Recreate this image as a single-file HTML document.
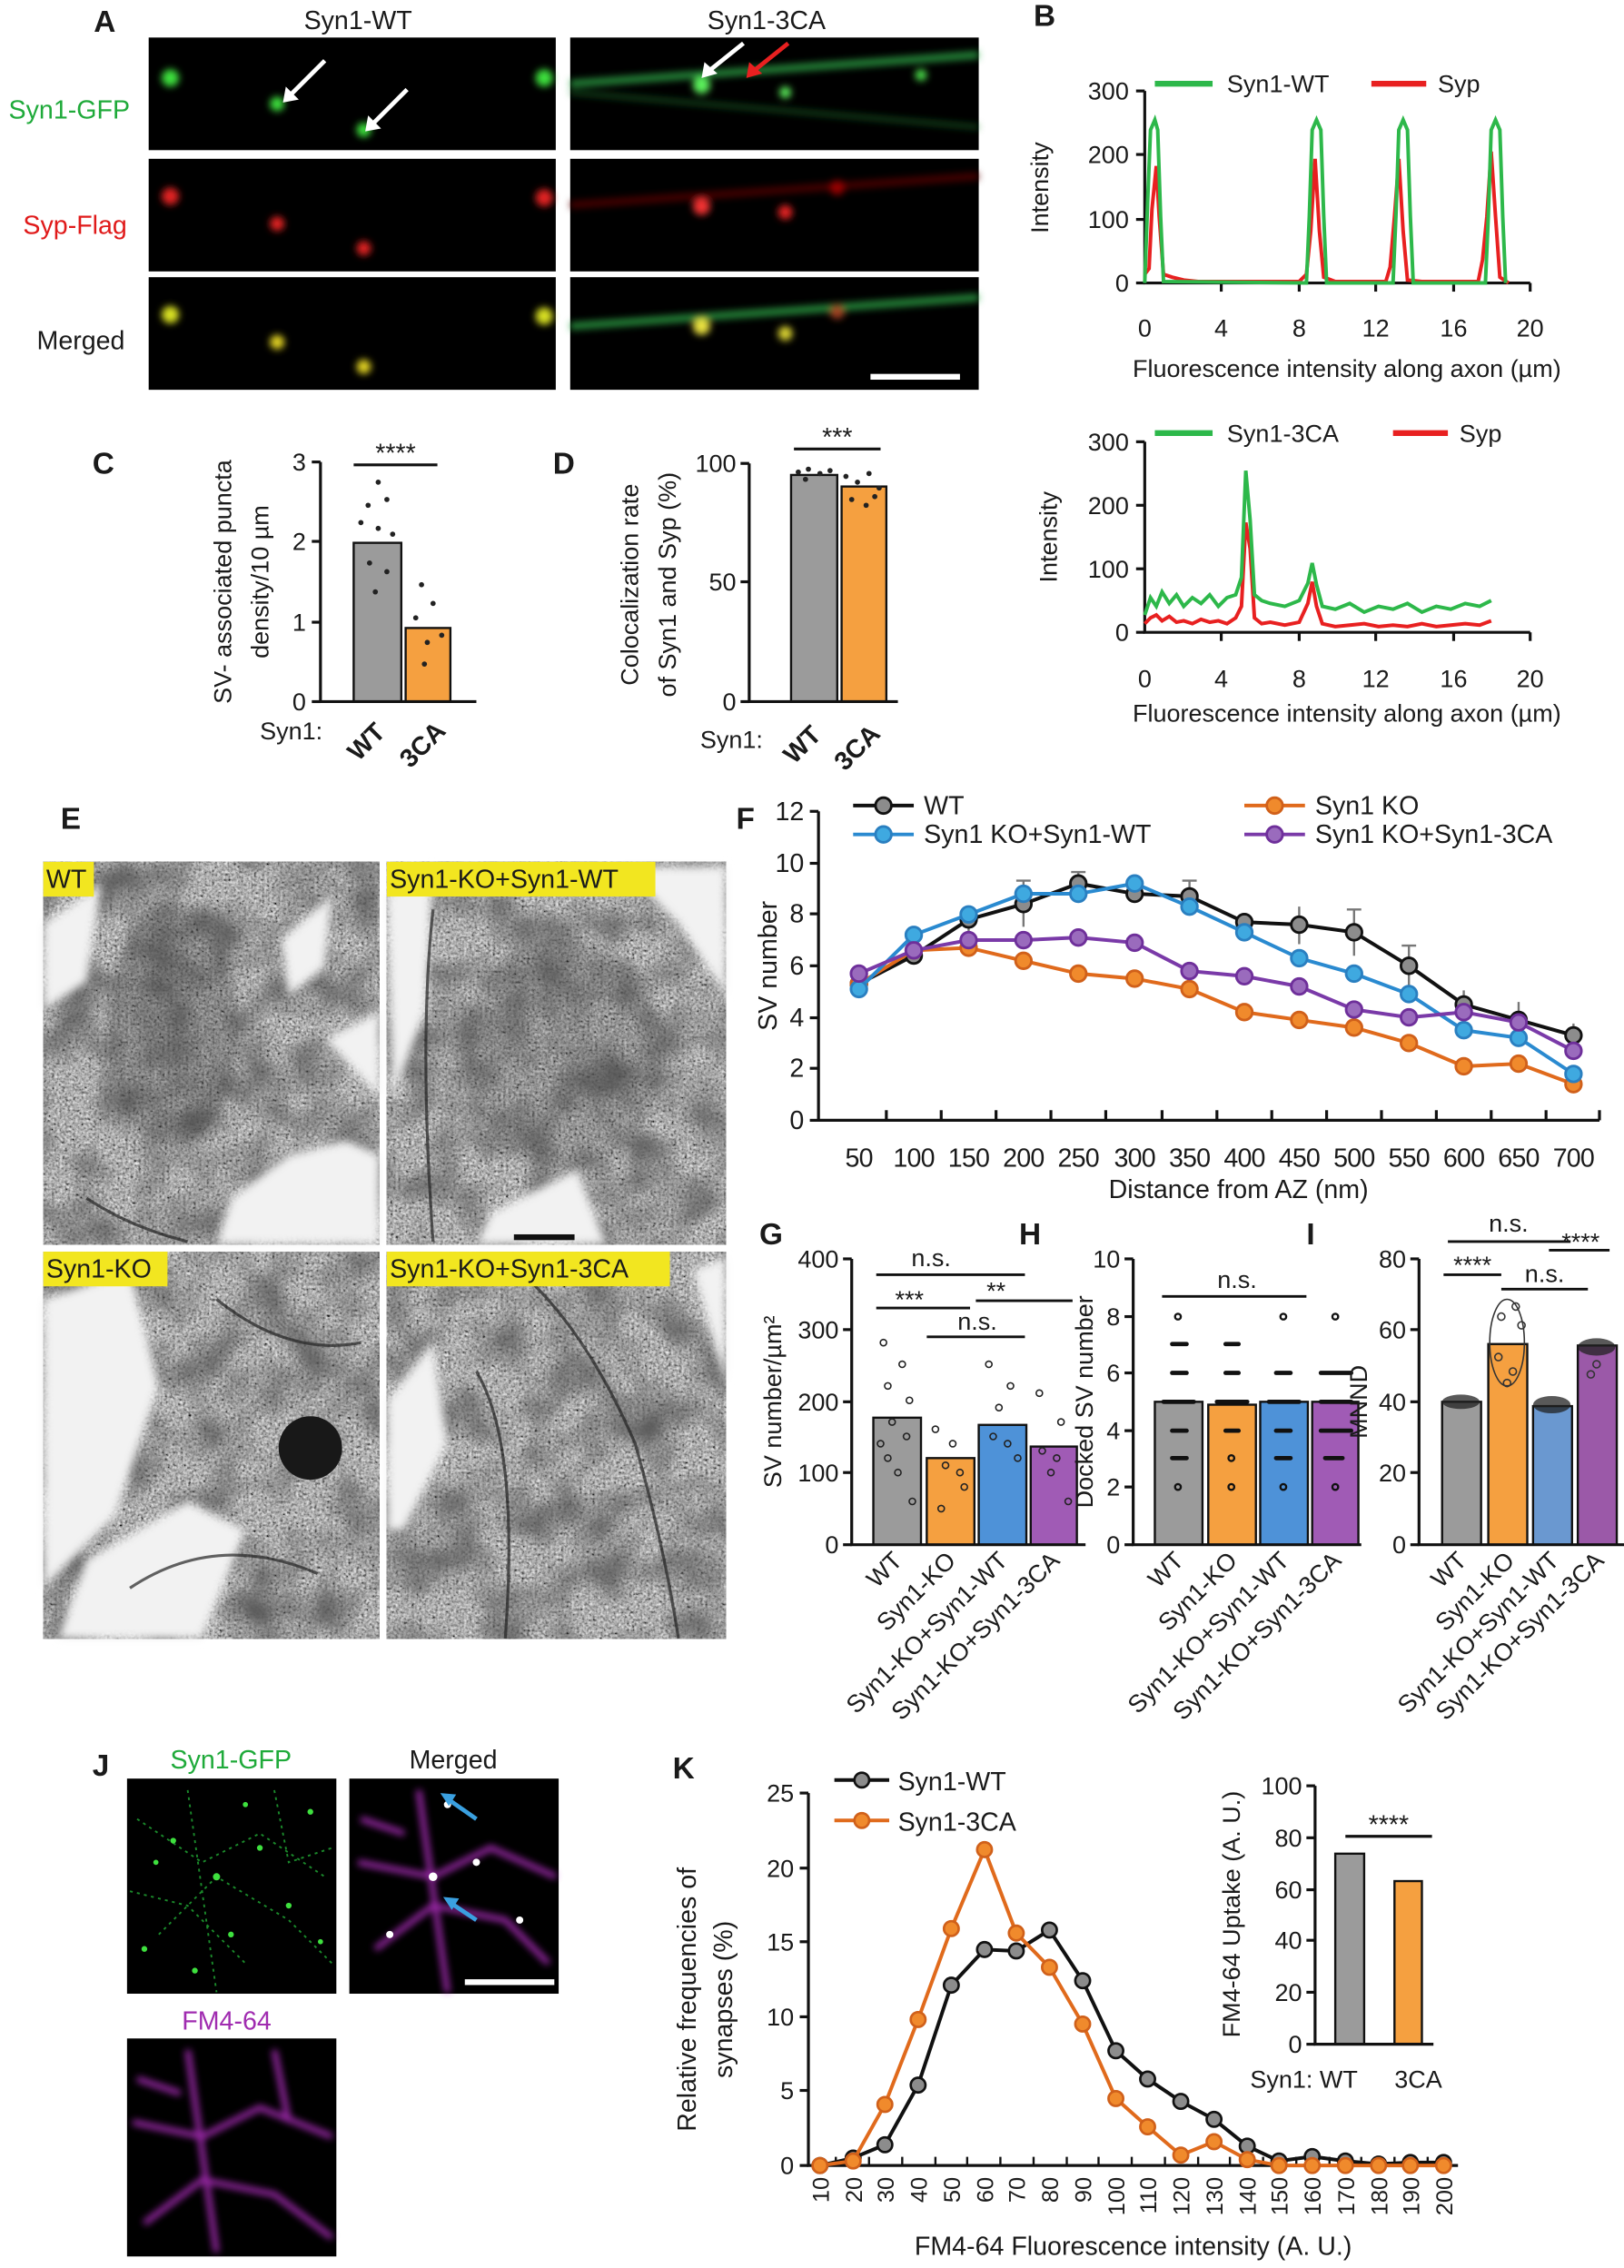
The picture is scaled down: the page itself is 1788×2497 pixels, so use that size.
<!DOCTYPE html>
<html><head><meta charset="utf-8"><style>
html,body{margin:0;padding:0;background:#fff}
svg{display:block}
text{font-family:"Liberation Sans",Arial,sans-serif;fill:#1a1a1a}
</style></head><body>
<svg width="1788" height="2497" viewBox="0 0 1125 1571" preserveAspectRatio="none" xmlns="http://www.w3.org/2000/svg">
<defs>
<filter id="blur" x="-50%" y="-50%" width="200%" height="200%"><feGaussianBlur stdDeviation="2.5"/></filter>
<filter id="em" x="0" y="0" width="100%" height="100%">
<feTurbulence type="fractalNoise" baseFrequency="0.55" numOctaves="2" seed="3"/>
<feColorMatrix type="matrix" values="0.6 0.6 0.6 0 -0.48  0.6 0.6 0.6 0 -0.48  0.6 0.6 0.6 0 -0.48  0 0 0 0 1"/>
</filter>
<filter id="em2" x="0" y="0" width="100%" height="100%">
<feTurbulence type="fractalNoise" baseFrequency="0.03" numOctaves="2" seed="8"/>
<feColorMatrix type="matrix" values="0 0 0 0 0.1  0 0 0 0 0.1  0 0 0 0 0.1  0 0 0 -1.8 1.15"/>
</filter>
<filter id="soft" x="-20%" y="-20%" width="140%" height="140%"><feGaussianBlur stdDeviation="3"/></filter>
<marker id="mk" viewBox="0 0 14 14" refX="7" refY="7" markerWidth="14" markerHeight="14" markerUnits="userSpaceOnUse"><circle cx="7" cy="7" r="5.5" fill="#8c8c8c" stroke="#111" stroke-width="1.8"/></marker>
<marker id="mo" viewBox="0 0 14 14" refX="7" refY="7" markerWidth="14" markerHeight="14" markerUnits="userSpaceOnUse"><circle cx="7" cy="7" r="5.5" fill="#f08a2c" stroke="#d0601a" stroke-width="1.8"/></marker>
<marker id="mb" viewBox="0 0 14 14" refX="7" refY="7" markerWidth="14" markerHeight="14" markerUnits="userSpaceOnUse"><circle cx="7" cy="7" r="5.5" fill="#3fa9e0" stroke="#2a7fc0" stroke-width="1.8"/></marker>
<marker id="mp" viewBox="0 0 14 14" refX="7" refY="7" markerWidth="14" markerHeight="14" markerUnits="userSpaceOnUse"><circle cx="7" cy="7" r="5.5" fill="#9a6bbd" stroke="#6e2f9a" stroke-width="1.8"/></marker>
<marker id="kk" viewBox="0 0 14 14" refX="7" refY="7" markerWidth="13" markerHeight="13" markerUnits="userSpaceOnUse"><circle cx="7" cy="7" r="5.5" fill="#8c8c8c" stroke="#111" stroke-width="1.8"/></marker>
<marker id="ko" viewBox="0 0 14 14" refX="7" refY="7" markerWidth="13" markerHeight="13" markerUnits="userSpaceOnUse"><circle cx="7" cy="7" r="5.5" fill="#f08a2c" stroke="#d0601a" stroke-width="1.8"/></marker>
</defs>

<!-- ===== Panel A ===== -->
<text x="65" y="22" font-size="21" font-weight="bold">A</text>
<text x="248" y="20" font-size="18" text-anchor="middle">Syn1-WT</text>
<text x="531" y="20" font-size="18" text-anchor="middle">Syn1-3CA</text>
<text x="48" y="82" font-size="18" text-anchor="middle" style="fill:#1faa3a">Syn1-GFP</text>
<text x="52" y="162" font-size="18" text-anchor="middle" style="fill:#e01a1a">Syp-Flag</text>
<text x="56" y="242" font-size="18" text-anchor="middle">Merged</text>
<rect x="103" y="26" width="282" height="78" fill="#000"/>
<rect x="395" y="26" width="283" height="78" fill="#000"/>
<rect x="103" y="110" width="282" height="78" fill="#000"/>
<rect x="395" y="110" width="283" height="78" fill="#000"/>
<rect x="103" y="192" width="282" height="78" fill="#000"/>
<rect x="395" y="192" width="283" height="78" fill="#000"/>
<g filter="url(#blur)">
<circle cx="118" cy="54" r="6" fill="#3ce03c"/><circle cx="192" cy="72" r="5" fill="#3ce03c"/><circle cx="252" cy="90" r="5" fill="#3ce03c"/><circle cx="377" cy="54" r="6" fill="#3ce03c"/>
<path d="M395 58 L678 38" stroke="#2fb04a" stroke-width="5" opacity="0.8"/><path d="M395 64 L678 88" stroke="#1e7a30" stroke-width="3" opacity="0.6"/>
<circle cx="486" cy="59" r="6" fill="#5cf05c"/><circle cx="544" cy="64" r="4" fill="#5cf05c"/><circle cx="638" cy="52" r="4" fill="#4ce04c"/>
<circle cx="118" cy="136" r="6" fill="#e02020"/><circle cx="192" cy="155" r="5" fill="#e02020"/><circle cx="252" cy="172" r="5" fill="#e02020"/><circle cx="377" cy="137" r="6" fill="#e02020"/>
<path d="M395 142 L678 122" stroke="#5a0808" stroke-width="5" opacity="0.8"/>
<circle cx="486" cy="143" r="6" fill="#f03030"/><circle cx="544" cy="147" r="5" fill="#e02020"/><circle cx="580" cy="130" r="5" fill="#900"/>
<circle cx="118" cy="218" r="6" fill="#d8e020"/><circle cx="192" cy="237" r="5" fill="#e0d020"/><circle cx="252" cy="254" r="5" fill="#e0d020"/><circle cx="377" cy="219" r="6" fill="#d8e020"/>
<path d="M395 226 L678 206" stroke="#2fb04a" stroke-width="5" opacity="0.8"/>
<circle cx="486" cy="226" r="6" fill="#e8e040"/><circle cx="544" cy="231" r="5" fill="#d8d030"/><circle cx="580" cy="216" r="5" fill="#a04020"/>
</g>
<path d="M225 42 L200 67" stroke="#fff" stroke-width="3"/><path d="M196 71 L198 60 L207 69Z" fill="#fff"/>
<path d="M282 62 L257 87" stroke="#fff" stroke-width="3"/><path d="M253 91 L255 80 L264 89Z" fill="#fff"/>
<path d="M515 30 L490 50" stroke="#fff" stroke-width="3"/><path d="M486 54 L488 43 L497 51Z" fill="#fff"/>
<path d="M546 30 L521 50" stroke="#e82020" stroke-width="3"/><path d="M517 54 L519 43 L528 51Z" fill="#e82020"/>
<rect x="603" y="259" width="62" height="4" fill="#fff"/>

<!-- ===== Panel B ===== -->
<text x="716" y="18" font-size="21" font-weight="bold">B</text>
<g font-size="17">
<line x1="800" y1="58" x2="840" y2="58" stroke="#2db84a" stroke-width="4"/><text x="850" y="64">Syn1-WT</text>
<line x1="950" y1="58" x2="988" y2="58" stroke="#e82020" stroke-width="4"/><text x="996" y="64">Syp</text>
<text x="726" y="130" transform="rotate(-90 726 130)" text-anchor="middle">Intensity</text>
<path d="M793 63 V196 H1060" fill="none" stroke="#111" stroke-width="2"/>
<g stroke="#111" stroke-width="2"><line x1="787" y1="63" x2="793" y2="63"/><line x1="787" y1="107" x2="793" y2="107"/><line x1="787" y1="152" x2="793" y2="152"/><line x1="787" y1="196" x2="793" y2="196"/>
<line x1="846" y1="196" x2="846" y2="202"/><line x1="900" y1="196" x2="900" y2="202"/><line x1="953" y1="196" x2="953" y2="202"/><line x1="1007" y1="196" x2="1007" y2="202"/><line x1="1060" y1="196" x2="1060" y2="202"/></g>
<g text-anchor="end"><text x="782" y="69">300</text><text x="782" y="113">200</text><text x="782" y="158">100</text><text x="782" y="202">0</text></g>
<g text-anchor="middle"><text x="793" y="233">0</text><text x="846" y="233">4</text><text x="900" y="233">8</text><text x="953" y="233">12</text><text x="1007" y="233">16</text><text x="1060" y="233">20</text></g>
<text x="933" y="261" text-anchor="middle">Fluorescence intensity along axon (µm)</text>
<polyline fill="none" stroke="#e82020" stroke-width="2.5" points="793,190 796,186 798,145 801,115 803,150 806,190 812,192 820,194 830,195 900,195 905,190 908,160 911,110 914,160 917,192 925,195 960,195 963,185 966,150 969,110 972,160 975,194 985,195 1024,195 1027,180 1030,150 1033,105 1036,150 1039,192 1045,196"/>
<polyline fill="none" stroke="#2db84a" stroke-width="2.5" points="793,196 795,140 797,90 800,83 802,90 804,150 806,195 905,196 907,150 909,90 912,83 915,90 917,150 919,196 965,196 967,150 969,90 972,83 975,90 977,150 979,196 1029,196 1031,150 1033,90 1036,83 1039,90 1041,150 1043,196"/>

<line x1="800" y1="300" x2="840" y2="300" stroke="#2db84a" stroke-width="4"/><text x="850" y="306">Syn1-3CA</text>
<line x1="965" y1="300" x2="1003" y2="300" stroke="#e82020" stroke-width="4"/><text x="1011" y="306">Syp</text>
<text x="732" y="372" transform="rotate(-90 732 372)" text-anchor="middle">Intensity</text>
<path d="M793 306 V438 H1060" fill="none" stroke="#111" stroke-width="2"/>
<g stroke="#111" stroke-width="2"><line x1="787" y1="306" x2="793" y2="306"/><line x1="787" y1="350" x2="793" y2="350"/><line x1="787" y1="394" x2="793" y2="394"/><line x1="787" y1="438" x2="793" y2="438"/>
<line x1="846" y1="438" x2="846" y2="444"/><line x1="900" y1="438" x2="900" y2="444"/><line x1="953" y1="438" x2="953" y2="444"/><line x1="1007" y1="438" x2="1007" y2="444"/><line x1="1060" y1="438" x2="1060" y2="444"/></g>
<g text-anchor="end"><text x="782" y="312">300</text><text x="782" y="356">200</text><text x="782" y="400">100</text><text x="782" y="444">0</text></g>
<g text-anchor="middle"><text x="793" y="476">0</text><text x="846" y="476">4</text><text x="900" y="476">8</text><text x="953" y="476">12</text><text x="1007" y="476">16</text><text x="1060" y="476">20</text></g>
<text x="933" y="500" text-anchor="middle">Fluorescence intensity along axon (µm)</text>
<polyline fill="none" stroke="#e82020" stroke-width="2.5" points="793,432 797,428 801,426 805,430 810,427 815,431 820,430 826,432 832,429 838,431 844,430 850,432 856,428 860,420 863,362 866,380 869,428 874,432 880,431 890,433 900,431 906,418 909,403 912,420 916,432 925,434 935,433 945,432 955,434 965,433 975,434 985,432 995,434 1005,433 1015,432 1025,433 1033,430"/>
<polyline fill="none" stroke="#2db84a" stroke-width="2.5" points="793,426 797,414 801,420 805,410 810,418 815,412 820,420 826,414 832,418 838,412 844,420 850,414 856,412 860,400 863,326 866,360 869,412 874,416 880,418 890,420 900,416 906,404 909,390 912,405 916,420 925,422 935,418 945,424 955,420 965,422 975,418 985,424 995,420 1005,422 1015,418 1025,420 1033,416"/>
</g>

<!-- ===== Panel C ===== -->
<text x="64" y="328" font-size="21" font-weight="bold">C</text>
<g font-size="17">
<text x="160" y="403" transform="rotate(-90 160 403)" text-anchor="middle">SV- associated puncta</text>
<text x="186" y="403" transform="rotate(-90 186 403)" text-anchor="middle">density/10 µm</text>
<rect x="245" y="376" width="33" height="110" fill="#9b9b9b" stroke="#111" stroke-width="1.5"/>
<rect x="281" y="435" width="31" height="51" fill="#f5a040" stroke="#111" stroke-width="1.5"/>
<path d="M222 320 V486 H330" fill="none" stroke="#111" stroke-width="2"/>
<g stroke="#111" stroke-width="2"><line x1="216" y1="320" x2="222" y2="320"/><line x1="216" y1="375" x2="222" y2="375"/><line x1="216" y1="431" x2="222" y2="431"/><line x1="216" y1="486" x2="222" y2="486"/></g>
<g text-anchor="end"><text x="212" y="326">3</text><text x="212" y="381">2</text><text x="212" y="437">1</text><text x="212" y="492">0</text></g>
<line x1="245" y1="322" x2="303" y2="322" stroke="#111" stroke-width="2"/>
<text x="274" y="320" text-anchor="middle" font-size="18">****</text>
<g fill="#222"><circle cx="262" cy="334" r="1.8"/><circle cx="255" cy="350" r="1.8"/><circle cx="268" cy="346" r="1.8"/><circle cx="250" cy="362" r="1.8"/><circle cx="262" cy="366" r="1.8"/><circle cx="272" cy="370" r="1.8"/><circle cx="256" cy="390" r="1.8"/><circle cx="268" cy="396" r="1.8"/><circle cx="260" cy="410" r="1.8"/><circle cx="292" cy="405" r="1.8"/><circle cx="300" cy="418" r="1.8"/><circle cx="288" cy="428" r="1.8"/><circle cx="296" cy="445" r="1.8"/><circle cx="306" cy="440" r="1.8"/><circle cx="294" cy="460" r="1.8"/></g>
<text x="180" y="512">Syn1:</text>
<text x="258" y="518" transform="rotate(-45 258 518)" font-size="18" font-weight="bold" text-anchor="middle">WT</text>
<text x="297" y="520" transform="rotate(-45 297 520)" font-size="18" font-weight="bold" text-anchor="middle">3CA</text>
</g>

<!-- ===== Panel D ===== -->
<text x="383" y="328" font-size="21" font-weight="bold">D</text>
<g font-size="17">
<text x="442" y="405" transform="rotate(-90 442 405)" text-anchor="middle">Colocalization rate</text>
<text x="468" y="405" transform="rotate(-90 468 405)" text-anchor="middle">of Syn1 and Syp (%)</text>
<rect x="548" y="329" width="32" height="157" fill="#9b9b9b" stroke="#111" stroke-width="1.5"/>
<rect x="583" y="337" width="31" height="149" fill="#f5a040" stroke="#111" stroke-width="1.5"/>
<path d="M519 321 V486 H622" fill="none" stroke="#111" stroke-width="2"/>
<g stroke="#111" stroke-width="2"><line x1="513" y1="321" x2="519" y2="321"/><line x1="513" y1="403" x2="519" y2="403"/><line x1="513" y1="486" x2="519" y2="486"/></g>
<g text-anchor="end"><text x="510" y="327">100</text><text x="510" y="409">50</text><text x="510" y="492">0</text></g>
<line x1="550" y1="311" x2="610" y2="311" stroke="#111" stroke-width="2"/>
<text x="580" y="309" text-anchor="middle" font-size="18">***</text>
<g fill="#222"><circle cx="553" cy="327" r="1.8"/><circle cx="560" cy="325" r="1.8"/><circle cx="568" cy="328" r="1.8"/><circle cx="575" cy="326" r="1.8"/><circle cx="558" cy="332" r="1.8"/><circle cx="586" cy="330" r="1.8"/><circle cx="594" cy="334" r="1.8"/><circle cx="602" cy="328" r="1.8"/><circle cx="609" cy="338" r="1.8"/><circle cx="590" cy="346" r="1.8"/><circle cx="600" cy="350" r="1.8"/><circle cx="606" cy="344" r="1.8"/></g>
<text x="485" y="518">Syn1:</text>
<text x="560" y="520" transform="rotate(-45 560 520)" font-size="18" font-weight="bold" text-anchor="middle">WT</text>
<text x="598" y="522" transform="rotate(-45 598 522)" font-size="18" font-weight="bold" text-anchor="middle">3CA</text>
</g>

<!-- ===== Panel E ===== -->
<text x="42" y="574" font-size="21" font-weight="bold">E</text>
<rect x="30" y="597" width="233" height="265" filter="url(#em)"/>
<rect x="30" y="597" width="233" height="265" filter="url(#em2)"/>
<rect x="268" y="597" width="235" height="265" filter="url(#em)"/>
<rect x="268" y="597" width="235" height="265" filter="url(#em2)"/>
<rect x="30" y="867" width="233" height="268" filter="url(#em)"/>
<rect x="30" y="867" width="233" height="268" filter="url(#em2)"/>
<rect x="268" y="867" width="235" height="268" filter="url(#em)"/>
<rect x="268" y="867" width="235" height="268" filter="url(#em2)"/>
<g fill="#f2f2f2" filter="url(#soft)">
<path d="M30 640 L70 612 L60 680 L30 700Z"/><path d="M195 650 L230 620 L225 670 L200 690Z"/><path d="M160 830 L200 800 L240 790 L263 800 L263 862 L150 862Z"/><path d="M225 720 L263 700 L263 760Z"/>
<path d="M268 620 L300 600 L295 700 L272 760Z"/><path d="M430 600 L503 600 L503 690 L470 640Z"/><path d="M340 840 L400 810 L420 862 L330 862Z"/>
<path d="M30 900 L90 880 L110 960 L80 1050 L30 1100Z"/><path d="M60 1080 L130 1040 L170 1060 L140 1135 L40 1135Z"/>
<path d="M268 970 L300 930 L310 1000 L280 1060 L268 1060Z"/><path d="M480 880 L503 870 L503 960Z"/>
</g>
<ellipse cx="120" cy="710" rx="45" ry="85" fill="#333" opacity="0.3" filter="url(#soft)"/>
<ellipse cx="390" cy="730" rx="70" ry="80" fill="#333" opacity="0.2" filter="url(#soft)"/>
<circle cx="215" cy="1003" r="22" fill="#181818"/>
<g fill="none" stroke="#222" stroke-width="2" opacity="0.7"><path d="M60 830 Q90 850 130 860"/><path d="M300 630 Q290 720 300 860"/><path d="M150 900 Q200 940 250 930"/><path d="M90 1100 Q150 1060 220 1090"/><path d="M370 890 Q410 930 440 1000 Q460 1070 470 1135"/><path d="M330 950 Q360 1000 350 1135"/></g>
<rect x="356" y="855" width="42" height="4" fill="#111"/>
<g font-size="18">
<rect x="30" y="597" width="35" height="24" fill="#f2e620"/><text x="32" y="615">WT</text>
<rect x="268" y="597" width="186" height="24" fill="#f2e620"/><text x="270" y="615">Syn1-KO+Syn1-WT</text>
<rect x="30" y="867" width="86" height="24" fill="#f2e620"/><text x="32" y="885">Syn1-KO</text>
<rect x="268" y="867" width="196" height="24" fill="#f2e620"/><text x="270" y="885">Syn1-KO+Syn1-3CA</text>
</g>

<!-- ===== Panel F ===== -->
<text x="510" y="574" font-size="21" font-weight="bold">F</text>
<g font-size="18">
<path d="M567 562 V776 H1108" fill="none" stroke="#111" stroke-width="2"/>
<g stroke="#111" stroke-width="2">
<line x1="561" y1="562" x2="567" y2="562"/><line x1="561" y1="598" x2="567" y2="598"/><line x1="561" y1="633" x2="567" y2="633"/><line x1="561" y1="669" x2="567" y2="669"/><line x1="561" y1="705" x2="567" y2="705"/><line x1="561" y1="740" x2="567" y2="740"/><line x1="561" y1="776" x2="567" y2="776"/>
<line x1="614" y1="776" x2="614" y2="769"/><line x1="652" y1="776" x2="652" y2="769"/><line x1="690" y1="776" x2="690" y2="769"/><line x1="728" y1="776" x2="728" y2="769"/><line x1="766" y1="776" x2="766" y2="769"/><line x1="805" y1="776" x2="805" y2="769"/><line x1="843" y1="776" x2="843" y2="769"/><line x1="881" y1="776" x2="881" y2="769"/><line x1="919" y1="776" x2="919" y2="769"/><line x1="957" y1="776" x2="957" y2="769"/><line x1="995" y1="776" x2="995" y2="769"/><line x1="1033" y1="776" x2="1033" y2="769"/><line x1="1071" y1="776" x2="1071" y2="769"/><line x1="1108" y1="776" x2="1108" y2="769"/>
</g>
<g text-anchor="end"><text x="557" y="568">12</text><text x="557" y="604">10</text><text x="557" y="639">8</text><text x="557" y="675">6</text><text x="557" y="711">4</text><text x="557" y="746">2</text><text x="557" y="782">0</text></g>
<text x="538" y="669" transform="rotate(-90 538 669)" text-anchor="middle">SV number</text>
<g text-anchor="middle" letter-spacing="-0.5"><text x="595" y="808">50</text><text x="633" y="808">100</text><text x="671" y="808">150</text><text x="709" y="808">200</text><text x="747" y="808">250</text><text x="786" y="808">300</text><text x="824" y="808">350</text><text x="862" y="808">400</text><text x="900" y="808">450</text><text x="938" y="808">500</text><text x="976" y="808">550</text><text x="1014" y="808">600</text><text x="1052" y="808">650</text><text x="1090" y="808">700</text></g>
<text x="858" y="830" text-anchor="middle">Distance from AZ (nm)</text>
<g stroke="#777" stroke-width="1.5" fill="none">
<path d="M747 604 V620 M742 604 H752 M824 610 V632 M819 610 H829 M938 630 V662 M933 630 H943 M976 655 V683 M971 655 H981 M709 610 V642 M704 610 H714 M671 631 V645 M900 628 V654 M1014 686 V706 M1052 694 V714 M1090 709 V726"/>
</g>
<polyline fill="none" stroke="#111" stroke-width="2.5" marker-start="url(#mk)" marker-mid="url(#mk)" marker-end="url(#mk)" points="595,681.5 633,661.9 671,636.9 709,626.2 747,612 786,619.1 824,620.9 862,638.7 900,640.5 938,645.8 976,669 1014,695.8 1052,706.5 1090,717.2"/>
<polyline fill="none" stroke="#e06a1c" stroke-width="2.5" marker-start="url(#mo)" marker-mid="url(#mo)" marker-end="url(#mo)" points="595,681.5 633,658.3 671,656.5 709,665.5 747,674.4 786,677.9 824,685.1 862,701.1 900,706.5 938,711.8 976,722.5 1014,738.6 1052,736.8 1090,751"/>
<polyline fill="none" stroke="#2a8ad0" stroke-width="2.5" marker-start="url(#mb)" marker-mid="url(#mb)" marker-end="url(#mb)" points="595,685.1 633,647.6 671,633.4 709,619.1 747,619.1 786,612 824,628 862,645.8 900,663.7 938,674.4 976,688.6 1014,713.6 1052,718.9 1090,743.9"/>
<polyline fill="none" stroke="#7a3aa8" stroke-width="2.5" marker-start="url(#mp)" marker-mid="url(#mp)" marker-end="url(#mp)" points="595,674.4 633,658.3 671,651.2 709,651.2 747,649.4 786,653 824,672.6 862,676.2 900,683.3 938,699.3 976,704.7 1014,701.1 1052,708.2 1090,727.9"/>
<polyline fill="none" stroke="#111" stroke-width="2.5" marker-mid="url(#mk)" points="591,558 612,558 633,558"/><text x="640" y="564">WT</text>
<polyline fill="none" stroke="#2a8ad0" stroke-width="2.5" marker-mid="url(#mb)" points="591,578 612,578 633,578"/><text x="640" y="584">Syn1 KO+Syn1-WT</text>
<polyline fill="none" stroke="#e06a1c" stroke-width="2.5" marker-mid="url(#mo)" points="862,558 883,558 904,558"/><text x="911" y="564">Syn1 KO</text>
<polyline fill="none" stroke="#7a3aa8" stroke-width="2.5" marker-mid="url(#mp)" points="862,578 883,578 904,578"/><text x="911" y="584">Syn1 KO+Syn1-3CA</text>
</g>

<!-- ===== Panels G H I ===== -->
<g font-size="17">
<text x="526" y="862" font-size="21" font-weight="bold">G</text>
<text x="706" y="862" font-size="21" font-weight="bold">H</text>
<text x="905" y="862" font-size="21" font-weight="bold">I</text>
<!-- G -->
<rect x="605" y="982" width="33" height="88" fill="#9b9b9b" stroke="#111" stroke-width="1.5"/>
<rect x="642" y="1010" width="33" height="60" fill="#f5a040" stroke="#111" stroke-width="1.5"/>
<rect x="678" y="987" width="33" height="83" fill="#4e92d8" stroke="#111" stroke-width="1.5"/>
<rect x="714" y="1002" width="32" height="68" fill="#a05bb5" stroke="#111" stroke-width="1.5"/>
<g fill="none" stroke="#222" stroke-width="1"><circle cx="612" cy="930" r="2.2"/><circle cx="625" cy="945" r="2.2"/><circle cx="615" cy="960" r="2.2"/><circle cx="630" cy="970" r="2.2"/><circle cx="610" cy="1000" r="2.2"/><circle cx="622" cy="1020" r="2.2"/><circle cx="632" cy="1040" r="2.2"/><circle cx="648" cy="990" r="2.2"/><circle cx="660" cy="1000" r="2.2"/><circle cx="668" cy="1030" r="2.2"/><circle cx="652" cy="1045" r="2.2"/><circle cx="685" cy="945" r="2.2"/><circle cx="700" cy="960" r="2.2"/><circle cx="692" cy="975" r="2.2"/><circle cx="705" cy="1010" r="2.2"/><circle cx="720" cy="965" r="2.2"/><circle cx="735" cy="985" r="2.2"/><circle cx="728" cy="1020" r="2.2"/><circle cx="740" cy="1040" r="2.2"/>
<circle cx="618" cy="985" r="2.2"/><circle cx="628" cy="995" r="2.2"/><circle cx="615" cy="1010" r="2.2"/><circle cx="655" cy="1015" r="2.2"/><circle cx="665" cy="1020" r="2.2"/><circle cx="688" cy="995" r="2.2"/><circle cx="698" cy="1000" r="2.2"/><circle cx="722" cy="1005" r="2.2"/><circle cx="732" cy="1010" r="2.2"/></g>
<path d="M590 872 V1070 H752" fill="none" stroke="#111" stroke-width="2"/>
<g stroke="#111" stroke-width="2"><line x1="584" y1="872" x2="590" y2="872"/><line x1="584" y1="921" x2="590" y2="921"/><line x1="584" y1="971" x2="590" y2="971"/><line x1="584" y1="1020" x2="590" y2="1020"/><line x1="584" y1="1070" x2="590" y2="1070"/></g>
<g text-anchor="end"><text x="581" y="878">400</text><text x="581" y="927">300</text><text x="581" y="977">200</text><text x="581" y="1026">100</text><text x="581" y="1076">0</text></g>
<text x="541" y="971" transform="rotate(-90 541 971)" text-anchor="middle">SV number/µm²</text>
<g stroke="#111" stroke-width="1.8"><line x1="607" y1="883" x2="710" y2="883"/><line x1="607" y1="906" x2="672" y2="906"/><line x1="676" y1="901" x2="743" y2="901"/><line x1="642" y1="926" x2="710" y2="926"/></g>
<text x="645" y="877" text-anchor="middle">n.s.</text><text x="630" y="906" text-anchor="middle">***</text><text x="690" y="900" text-anchor="middle">**</text><text x="677" y="921" text-anchor="middle">n.s.</text>
<!-- H -->
<rect x="800" y="971" width="33" height="99" fill="#9b9b9b" stroke="#111" stroke-width="1.5"/>
<rect x="837" y="973" width="33" height="97" fill="#f5a040" stroke="#111" stroke-width="1.5"/>
<rect x="873" y="971" width="33" height="99" fill="#4e92d8" stroke="#111" stroke-width="1.5"/>
<rect x="909" y="971" width="32" height="99" fill="#a05bb5" stroke="#111" stroke-width="1.5"/>
<g stroke="#111" stroke-width="3" stroke-linecap="round"><line x1="812" y1="931" x2="822" y2="931"/><line x1="812" y1="951" x2="822" y2="951"/><line x1="849" y1="931" x2="858" y2="931"/><line x1="849" y1="951" x2="858" y2="951"/><line x1="884" y1="951" x2="894" y2="951"/><line x1="915" y1="951" x2="936" y2="951"/><line x1="806" y1="971" x2="827" y2="971"/><line x1="843" y1="971" x2="864" y2="971"/><line x1="879" y1="971" x2="900" y2="971"/><line x1="915" y1="971" x2="936" y2="971"/><line x1="812" y1="991" x2="822" y2="991"/><line x1="849" y1="991" x2="858" y2="991"/><line x1="884" y1="991" x2="894" y2="991"/><line x1="915" y1="991" x2="936" y2="991"/><line x1="812" y1="1010" x2="822" y2="1010"/><line x1="884" y1="1010" x2="894" y2="1010"/><line x1="918" y1="1010" x2="930" y2="1010"/></g>
<g fill="none" stroke="#111" stroke-width="1.5"><circle cx="816" cy="912" r="2"/><circle cx="889" cy="912" r="2"/><circle cx="925" cy="912" r="2"/><circle cx="816" cy="1030" r="2"/><circle cx="853" cy="1030" r="2"/><circle cx="889" cy="1030" r="2"/><circle cx="925" cy="1030" r="2"/><circle cx="853" cy="1010" r="2"/></g>
<path d="M785 872 V1070 H943" fill="none" stroke="#111" stroke-width="2"/>
<g stroke="#111" stroke-width="2"><line x1="779" y1="872" x2="785" y2="872"/><line x1="779" y1="912" x2="785" y2="912"/><line x1="779" y1="951" x2="785" y2="951"/><line x1="779" y1="991" x2="785" y2="991"/><line x1="779" y1="1030" x2="785" y2="1030"/><line x1="779" y1="1070" x2="785" y2="1070"/></g>
<g text-anchor="end"><text x="776" y="878">10</text><text x="776" y="918">8</text><text x="776" y="957">6</text><text x="776" y="997">4</text><text x="776" y="1036">2</text><text x="776" y="1076">0</text></g>
<text x="757" y="971" transform="rotate(-90 757 971)" text-anchor="middle">Docked SV number</text>
<line x1="805" y1="898" x2="905" y2="898" stroke="#111" stroke-width="1.8"/><text x="857" y="892" text-anchor="middle">n.s.</text>
<!-- I -->
<rect x="999" y="971" width="27" height="99" fill="#9b9b9b" stroke="#111" stroke-width="1.5"/>
<rect x="1031" y="931" width="27" height="139" fill="#f5a040" stroke="#111" stroke-width="1.5"/>
<rect x="1062" y="974" width="27" height="96" fill="#6a98d0" stroke="#111" stroke-width="1.5"/>
<rect x="1093" y="932" width="27" height="138" fill="#9b59a8" stroke="#111" stroke-width="1.5"/>
<g fill="#222" opacity="0.75"><ellipse cx="1012" cy="971" rx="13" ry="5"/><ellipse cx="1075" cy="973" rx="13" ry="6"/><ellipse cx="1106" cy="933" rx="13" ry="6"/></g>
<g fill="none" stroke="#333" stroke-width="1"><ellipse cx="1044" cy="930" rx="12" ry="30"/><circle cx="1040" cy="912" r="2.5"/><circle cx="1050" cy="905" r="2.5"/><circle cx="1054" cy="918" r="2.5"/><circle cx="1038" cy="940" r="2.5"/><circle cx="1048" cy="950" r="2.5"/><circle cx="1044" cy="958" r="2.5"/><circle cx="1106" cy="945" r="2.5"/><circle cx="1102" cy="952" r="2.5"/></g>
<path d="M983 872 V1070 H1125" fill="none" stroke="#111" stroke-width="2"/>
<g stroke="#111" stroke-width="2"><line x1="977" y1="872" x2="983" y2="872"/><line x1="977" y1="921" x2="983" y2="921"/><line x1="977" y1="971" x2="983" y2="971"/><line x1="977" y1="1020" x2="983" y2="1020"/><line x1="977" y1="1070" x2="983" y2="1070"/></g>
<g text-anchor="end"><text x="974" y="878">80</text><text x="974" y="927">60</text><text x="974" y="977">40</text><text x="974" y="1026">20</text><text x="974" y="1076">0</text></g>
<text x="947" y="971" transform="rotate(-90 947 971)" text-anchor="middle">MNND</text>
<g stroke="#111" stroke-width="1.8"><line x1="1003" y1="860" x2="1088" y2="860"/><line x1="1000" y1="883" x2="1040" y2="883"/><line x1="1073" y1="866" x2="1115" y2="866"/><line x1="1040" y1="893" x2="1100" y2="893"/></g>
<text x="1045" y="853" text-anchor="middle">n.s.</text><text x="1020" y="882" text-anchor="middle">****</text><text x="1095" y="866" text-anchor="middle">****</text><text x="1070" y="888" text-anchor="middle">n.s.</text>
<!-- category labels -->
<g text-anchor="end" font-size="17">
<text transform="translate(626,1082) rotate(-45)">WT</text>
<text transform="translate(663,1082) rotate(-45)">Syn1-KO</text>
<text transform="translate(699,1082) rotate(-45)">Syn1-KO+Syn1-WT</text>
<text transform="translate(735,1082) rotate(-45)">Syn1-KO+Syn1-3CA</text>
<text transform="translate(821,1082) rotate(-45)">WT</text>
<text transform="translate(858,1082) rotate(-45)">Syn1-KO</text>
<text transform="translate(894,1082) rotate(-45)">Syn1-KO+Syn1-WT</text>
<text transform="translate(930,1082) rotate(-45)">Syn1-KO+Syn1-3CA</text>
<text transform="translate(1017,1082) rotate(-45)">WT</text>
<text transform="translate(1050,1082) rotate(-45)">Syn1-KO</text>
<text transform="translate(1081,1082) rotate(-45)">Syn1-KO+Syn1-WT</text>
<text transform="translate(1112,1082) rotate(-45)">Syn1-KO+Syn1-3CA</text>
</g>
</g>

<!-- ===== Panel J ===== -->
<text x="64" y="1230" font-size="21" font-weight="bold">J</text>
<text x="160" y="1225" font-size="18" text-anchor="middle" style="fill:#1faa3a">Syn1-GFP</text>
<text x="314" y="1225" font-size="18" text-anchor="middle">Merged</text>
<text x="157" y="1406" font-size="18" text-anchor="middle" style="fill:#a02cb0">FM4-64</text>
<rect x="88" y="1232" width="145" height="149" fill="#000"/>
<rect x="242" y="1232" width="145" height="149" fill="#000"/>
<rect x="88" y="1412" width="145" height="151" fill="#000"/>
<g fill="none" stroke="#1e9a30" stroke-width="1.2" stroke-dasharray="2 3" opacity="0.9"><path d="M95 1260 L140 1290 L180 1270 L225 1300"/><path d="M110 1340 L150 1300 L200 1330 L230 1360"/><path d="M130 1240 L150 1380"/><path d="M90 1310 L130 1320 L170 1360"/><path d="M190 1240 L200 1290 L230 1280"/></g>
<g fill="#3ee03e"><circle cx="120" cy="1275" r="2"/><circle cx="150" cy="1300" r="2.5"/><circle cx="180" cy="1280" r="2"/><circle cx="200" cy="1320" r="2"/><circle cx="100" cy="1350" r="2"/><circle cx="160" cy="1340" r="2"/><circle cx="215" cy="1255" r="2"/><circle cx="135" cy="1365" r="2"/><circle cx="108" cy="1290" r="1.8"/><circle cx="170" cy="1250" r="1.8"/><circle cx="222" cy="1345" r="1.8"/></g>
<g filter="url(#blur)" fill="none" stroke="#c030d0" stroke-width="4" opacity="0.8"><path d="M248 1290 L300 1300 L340 1280 L385 1300"/><path d="M260 1350 L300 1320 L350 1330 L380 1360"/><path d="M290 1240 L310 1380"/><path d="M250 1260 L280 1270"/><path d="M92 1470 L140 1480 L180 1460 L230 1480"/><path d="M100 1540 L140 1510 L190 1520 L230 1550"/><path d="M130 1420 L150 1560"/><path d="M95 1440 L125 1450"/><path d="M190 1420 L200 1470"/></g>
<g fill="#fff"><circle cx="300" cy="1300" r="3"/><circle cx="330" cy="1290" r="2.5"/><circle cx="270" cy="1340" r="2.5"/><circle cx="360" cy="1330" r="2.5"/><circle cx="310" cy="1250" r="2.5"/></g>
<path d="M330 1260 L310 1246" stroke="#3aa0e0" stroke-width="3"/><path d="M305 1242 L316 1243 L311 1251Z" fill="#3aa0e0"/>
<path d="M330 1330 L312 1318" stroke="#3aa0e0" stroke-width="3"/><path d="M307 1314 L318 1315 L313 1323Z" fill="#3aa0e0"/>
<rect x="322" y="1371" width="62" height="4" fill="#fff"/>

<!-- ===== Panel K ===== -->
<text x="466" y="1232" font-size="21" font-weight="bold">K</text>
<g font-size="17">
<path d="M560 1242 V1500 H1010" fill="none" stroke="#111" stroke-width="2"/>
<g stroke="#111" stroke-width="2"><line x1="554" y1="1242" x2="560" y2="1242"/><line x1="554" y1="1294" x2="560" y2="1294"/><line x1="554" y1="1345" x2="560" y2="1345"/><line x1="554" y1="1397" x2="560" y2="1397"/><line x1="554" y1="1448" x2="560" y2="1448"/><line x1="554" y1="1500" x2="560" y2="1500"/></g>
<g font-family="Liberation Serif" text-anchor="end"><text x="550" y="1248">25</text><text x="550" y="1300">20</text><text x="550" y="1351">15</text><text x="550" y="1403">10</text><text x="550" y="1454">5</text><text x="550" y="1506">0</text></g>
<text x="482" y="1385" transform="rotate(-90 482 1385)" text-anchor="middle" font-size="18">Relative frequencies of</text>
<text x="507" y="1385" transform="rotate(-90 507 1385)" text-anchor="middle" font-size="18">synapses (%)</text>
<g stroke="#111" stroke-width="1.5"><line x1="579" y1="1500" x2="579" y2="1494"/><line x1="602" y1="1500" x2="602" y2="1494"/><line x1="625" y1="1500" x2="625" y2="1494"/><line x1="648" y1="1500" x2="648" y2="1494"/><line x1="670" y1="1500" x2="670" y2="1494"/><line x1="693" y1="1500" x2="693" y2="1494"/><line x1="716" y1="1500" x2="716" y2="1494"/><line x1="739" y1="1500" x2="739" y2="1494"/><line x1="761" y1="1500" x2="761" y2="1494"/><line x1="784" y1="1500" x2="784" y2="1494"/><line x1="807" y1="1500" x2="807" y2="1494"/><line x1="830" y1="1500" x2="830" y2="1494"/><line x1="852" y1="1500" x2="852" y2="1494"/><line x1="875" y1="1500" x2="875" y2="1494"/><line x1="898" y1="1500" x2="898" y2="1494"/><line x1="921" y1="1500" x2="921" y2="1494"/><line x1="943" y1="1500" x2="943" y2="1494"/><line x1="966" y1="1500" x2="966" y2="1494"/><line x1="989" y1="1500" x2="989" y2="1494"/></g>
<g text-anchor="end" font-size="16">
<text transform="translate(574,1508) rotate(-90)">10</text><text transform="translate(597,1508) rotate(-90)">20</text><text transform="translate(619,1508) rotate(-90)">30</text><text transform="translate(642,1508) rotate(-90)">40</text><text transform="translate(665,1508) rotate(-90)">50</text><text transform="translate(688,1508) rotate(-90)">60</text><text transform="translate(710,1508) rotate(-90)">70</text><text transform="translate(733,1508) rotate(-90)">80</text><text transform="translate(756,1508) rotate(-90)">90</text><text transform="translate(779,1508) rotate(-90)">100</text><text transform="translate(801,1508) rotate(-90)">110</text><text transform="translate(824,1508) rotate(-90)">120</text><text transform="translate(847,1508) rotate(-90)">130</text><text transform="translate(870,1508) rotate(-90)">140</text><text transform="translate(892,1508) rotate(-90)">150</text><text transform="translate(915,1508) rotate(-90)">160</text><text transform="translate(938,1508) rotate(-90)">170</text><text transform="translate(961,1508) rotate(-90)">180</text><text transform="translate(983,1508) rotate(-90)">190</text><text transform="translate(1006,1508) rotate(-90)">200</text>
</g>
<text x="785" y="1562" text-anchor="middle" font-size="18">FM4-64 Fluorescence intensity (A. U.)</text>
<polyline fill="none" stroke="#111" stroke-width="2.5" marker-start="url(#kk)" marker-mid="url(#kk)" marker-end="url(#kk)" points="568,1500 591,1494.8 613,1485.6 636,1444.3 659,1375.1 682,1350.4 704,1351.4 727,1336.9 750,1372 773,1420.5 795,1440.1 818,1455.6 841,1468 864,1486.6 886,1496.9 909,1493.8 932,1496.9 955,1499 977,1497.9 1000,1497.9"/>
<polyline fill="none" stroke="#e06a1c" stroke-width="2.5" marker-start="url(#ko)" marker-mid="url(#ko)" marker-end="url(#ko)" points="568,1500 591,1496.9 613,1457.7 636,1398.9 659,1335.9 682,1281.2 704,1339 727,1362.7 750,1402 773,1453.6 795,1473.2 818,1492.8 841,1483.5 864,1495.9 886,1500 909,1500 932,1500 955,1500 977,1500 1000,1500"/>
<polyline fill="none" stroke="#111" stroke-width="2.5" marker-mid="url(#kk)" points="578,1233 597,1233 616,1233"/><text x="622" y="1240" font-size="18">Syn1-WT</text>
<polyline fill="none" stroke="#e06a1c" stroke-width="2.5" marker-mid="url(#ko)" points="578,1261 597,1261 616,1261"/><text x="622" y="1268" font-size="18">Syn1-3CA</text>
<!-- inset -->
<rect x="925" y="1284" width="20" height="132" fill="#9b9b9b" stroke="#111" stroke-width="1.5"/>
<rect x="966" y="1303" width="19" height="113" fill="#f5a040" stroke="#111" stroke-width="1.5"/>
<path d="M911 1237 V1416 H993" fill="none" stroke="#111" stroke-width="2"/>
<g stroke="#111" stroke-width="2"><line x1="905" y1="1237" x2="911" y2="1237"/><line x1="905" y1="1273" x2="911" y2="1273"/><line x1="905" y1="1309" x2="911" y2="1309"/><line x1="905" y1="1344" x2="911" y2="1344"/><line x1="905" y1="1380" x2="911" y2="1380"/><line x1="905" y1="1416" x2="911" y2="1416"/></g>
<g text-anchor="end"><text x="902" y="1243">100</text><text x="902" y="1279">80</text><text x="902" y="1315">60</text><text x="902" y="1350">40</text><text x="902" y="1386">20</text><text x="902" y="1422">0</text></g>
<text x="859" y="1326" transform="rotate(-90 859 1326)" text-anchor="middle">FM4-64 Uptake (A. U.)</text>
<line x1="932" y1="1272" x2="992" y2="1272" stroke="#111" stroke-width="2"/>
<text x="962" y="1270" text-anchor="middle" font-size="18">****</text>
<text x="866" y="1446">Syn1: WT</text><text x="966" y="1446">3CA</text>
</g>
</svg>
</body></html>
